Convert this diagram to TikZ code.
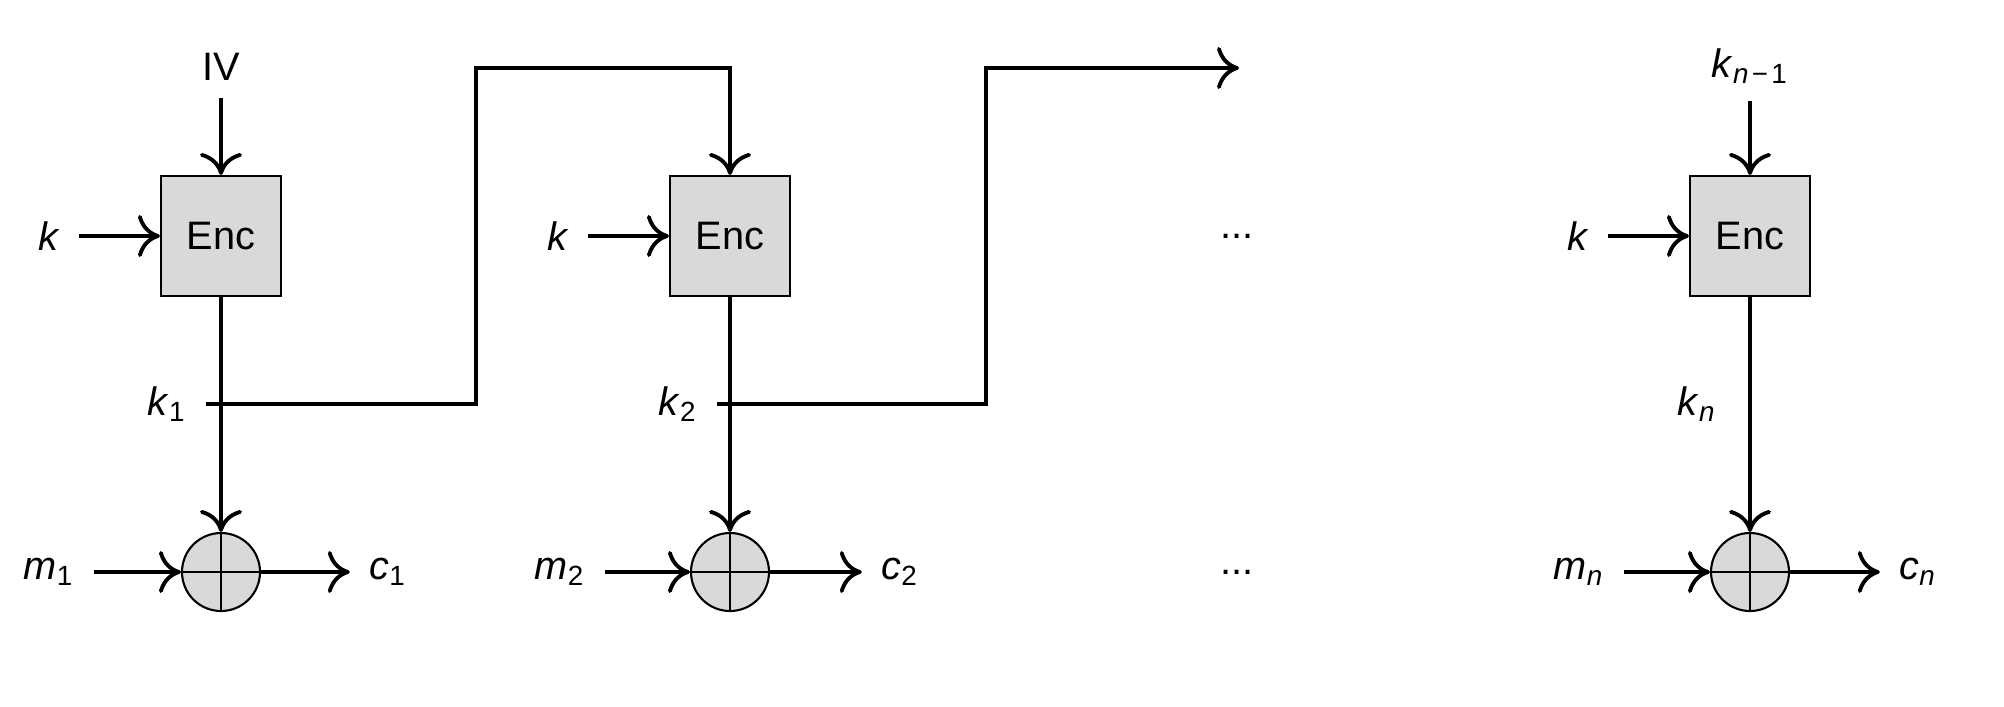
\documentclass[tikz,border=0pt]{standalone}
\usepackage{fontspec}
\setmainfont{Liberation Sans}
\usepackage{tikz}
\usetikzlibrary{arrows.meta}
\definecolor{blockgray}{HTML}{D9D9D9}
\newcommand{\ivar}[2]{\textit{#1}\textsubscript{#2}}
\tikzset{
    wire/.style={line width=1.1pt},
    arrow_line/.style={wire, -{Computer Modern Rightarrow[length=2.2mm, width=4.2mm]}},
    block/.style={draw, line width=0.6pt, fill=blockgray, minimum width=1.2cm, minimum height=1.2cm},
    xor/.style={circle, draw, line width=0.6pt, fill=blockgray, minimum size=0.78cm, inner sep=0pt,
        path picture={\draw[line width=0.6pt] (path picture bounding box.north) -- (path picture bounding box.south)
            (path picture bounding box.west) -- (path picture bounding box.east);}},
    lbl/.style={inner xsep=0.19cm, inner ysep=0.17cm},
    every node/.style={font=\fontsize{11.3}{13.5}\selectfont}
}

\begin{document}
\begin{tikzpicture}
    \useasboundingbox (0,0) rectangle (20.04,7.06);
    % First block
    \node[lbl] (iv) at (2.21,6.39) {IV};
    \node[block] (enc1) at (2.21,4.70) {Enc};
    \node[lbl] (kin1) at (0.49,4.70) {\textit{k}};
    \node[xor] (xor1) at (2.21,1.34) {};
    \node[lbl] (m1) at (0.49,1.34) {\ivar{m}{1}};
    \node[lbl] (c1) at (3.88,1.34) {\ivar{c}{1}};
    \node[lbl] (k1) at (1.67,3.02) {\ivar{k}{1}};
    \coordinate (k1end) at (4.76,3.02);
    \coordinate (top1) at (4.76,6.38);
    \draw[arrow_line] (iv) -- (enc1);
    \draw[arrow_line] (kin1) -- (enc1);
    \draw[arrow_line] (enc1) -- (xor1);
    \draw[arrow_line] (m1) -- (xor1);
    \draw[arrow_line] (xor1) -- (c1);
    % Second block
    \node[block] (enc2) at (7.30,4.70) {Enc};
    \node[lbl] (kin2) at (5.58,4.70) {\textit{k}};
    \node[xor] (xor2) at (7.30,1.34) {};
    \node[lbl] (m2) at (5.60,1.34) {\ivar{m}{2}};
    \node[lbl] (c2) at (9.00,1.34) {\ivar{c}{2}};
    \node[lbl] (k2) at (6.78,3.02) {\ivar{k}{2}};
    \coordinate (k2end) at (9.86,3.02);
    \coordinate (top2) at (9.86,6.38);
    \coordinate (top2end) at (12.39,6.38);
    \draw[arrow_line] (k1.east) -- (k1end) -- (top1) -| (enc2);
    \draw[arrow_line] (kin2) -- (enc2);
    \draw[arrow_line] (enc2) -- (xor2);
    \draw[arrow_line] (m2) -- (xor2);
    \draw[arrow_line] (xor2) -- (c2);
    \draw[arrow_line] (k2.east) -- (k2end) -- (top2) -- (top2end);
    % Dots
    \node (dots1) at (12.37,4.70) {...};
    \node (dots2) at (12.37,1.34) {...};
    % Last block
    \node[lbl] (kn1) at (17.50,6.40) {\ivar{k}{\textit{n}\hspace{0.12em}−\hspace{0.12em}1}};
    \node[block] (enc3) at (17.50,4.70) {Enc};
    \node[lbl] (kin3) at (15.78,4.70) {\textit{k}};
    \node[xor] (xor3) at (17.50,1.34) {};
    \node[lbl] (mn) at (15.79,1.34) {\ivar{m}{\textit{n}}};
    \node[lbl] (cn) at (19.18,1.34) {\ivar{c}{\textit{n}}};
    \node[lbl] (kn) at (16.97,3.02) {\ivar{k}{\textit{n}}};
    \draw[arrow_line] (kn1.south -| enc3) -- (enc3);
    \draw[arrow_line] (kin3) -- (enc3);
    \draw[arrow_line] (enc3) -- (xor3);
    \draw[arrow_line] (mn) -- (xor3);
    \draw[arrow_line] (xor3) -- (cn);
\end{tikzpicture}
\end{document}
